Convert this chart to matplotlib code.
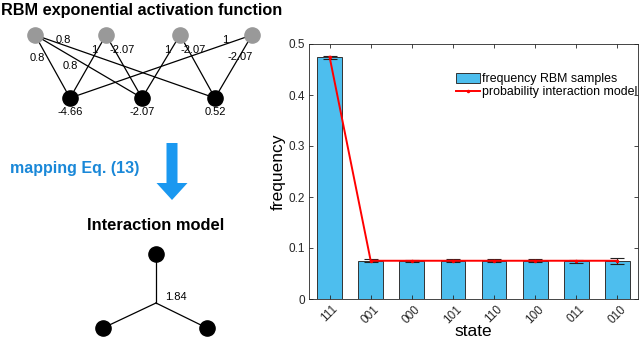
import numpy as np
import matplotlib
matplotlib.use("Agg")
import matplotlib.pyplot as plt
from matplotlib.patches import FancyArrow

plt.rcParams['font.family'] = ['Liberation Sans', 'DejaVu Sans']

# bar chart data
states = ['111', '001', '000', '101', '110', '100', '011', '010']
freq_rbm = [0.474, 0.075, 0.075, 0.075, 0.075, 0.075, 0.074, 0.075]
freq_err = [0.003, 0.003, 0.002, 0.003, 0.003, 0.003, 0.003, 0.006]
prob_model = [0.475, 0.075, 0.075, 0.075, 0.075, 0.075, 0.075, 0.075]

# RBM diagram data
visible_bias = ['-4.66', '-2.07', '0.52']
# (hidden node, visible node, weight label)
rbm_edges = [(0, 0, '0.8'), (0, 1, '0.8'), (0, 2, '0.8'),
             (1, 0, '1'), (1, 1, '-2.07'),
             (2, 1, '1'), (2, 2, '-2.07'),
             (3, 0, '1'), (3, 2, '-2.07')]
interaction_weight = '1.84'

fig = plt.figure(figsize=(6.4, 3.39), dpi=100)

# ---- left diagram, drawn in pixel coordinates
dax = fig.add_axes([0, 0, 1, 1])
dax.set_xlim(0, 640)
dax.set_ylim(339, 0)
dax.axis('off')

top_x = [35, 106, 180, 252]
top_y = 35
bot_x = [70, 142, 215]
bot_y = 98
label_pos = [(37, 58), (70, 66), (63, 40), (94, 50), (122, 50),
             (167, 50), (193, 50), (225, 40), (240, 57)]

for (h, v, w), (lx, ly) in zip(rbm_edges, label_pos):
    dax.plot([top_x[h], bot_x[v]], [top_y, bot_y], color='black', lw=0.9, zorder=1)
    dax.text(lx, ly, w, fontsize=8, ha='center', va='center', zorder=3)

dax.scatter(top_x, [top_y] * 4, s=120, color='#999999', zorder=2)
dax.scatter(bot_x, [bot_y] * 3, s=120, color='black', zorder=2)
for x, b in zip(bot_x, visible_bias):
    dax.text(x, 112, b, fontsize=8, ha='center', va='center')

dax.text(1, 10, 'RBM exponential activation function', fontsize=11.7,
         fontweight='bold', ha='left', va='center')

dax.add_patch(FancyArrow(172, 143, 0, 57, width=11, head_width=31,
                         head_length=17, length_includes_head=True,
                         color='#1A98F0', lw=0))
dax.text(10, 169, 'mapping Eq. (13)', fontsize=11.5, fontweight='bold',
         color='#1A88D8', ha='left', va='center')
dax.text(156, 226, 'Interaction model', fontsize=11.9, fontweight='bold',
         ha='center', va='center')

cx, cy = 156, 303
ends = [(156, 254), (103, 328), (207, 328)]
for ex, ey in ends:
    dax.plot([cx, ex], [cy, ey], color='black', lw=0.9, zorder=1)
dax.scatter([e[0] for e in ends], [e[1] for e in ends], s=120, color='black', zorder=2)
dax.text(165, 297, interaction_weight, fontsize=8, ha='left', va='center')

# ---- right bar chart
ax = fig.add_axes([309 / 640, 40 / 339, 329 / 640, 255 / 339])
pos = np.arange(1, len(states) + 1)
bars = ax.bar(pos, freq_rbm, width=0.6, color='#4DBEEE', edgecolor='#333333',
              linewidth=0.7, label='frequency RBM samples', zorder=1)
ax.errorbar(pos, freq_rbm, yerr=freq_err, fmt='none', ecolor='#222222',
            elinewidth=0.8, capsize=5, capthick=0.8, zorder=2)
line, = ax.plot(pos, prob_model, color='red', lw=1.4, marker='.', markersize=3,
                label='probability interaction model', zorder=3)

ax.set_xlim(0.5, 8.5)
ax.set_ylim(0, 0.5)
ax.set_xticks(pos)
ax.set_xticklabels(states, rotation=45, fontsize=8.5)
ax.set_yticks([0, 0.1, 0.2, 0.3, 0.4, 0.5])
ax.set_yticklabels(['0', '0.1', '0.2', '0.3', '0.4', '0.5'], fontsize=8.5)
ax.tick_params(direction='in', top=True, right=True, length=3, width=0.6,
               colors='#262626', pad=3)
for s in ax.spines.values():
    s.set_linewidth(0.6)
    s.set_color('#262626')
ax.set_xlabel('state', fontsize=12.5, labelpad=-1)
ax.set_ylabel('frequency', fontsize=12.5, labelpad=2)

ax.legend([bars, line], [bars.get_label(), line.get_label()],
          loc='upper left', bbox_to_anchor=(0.448, 0.885), frameon=False,
          fontsize=8.9, handlelength=1.95, handleheight=0.75, handletextpad=0.15,
          labelspacing=0.05, borderpad=0, borderaxespad=0)

fig.savefig('out.png', dpi=100)
